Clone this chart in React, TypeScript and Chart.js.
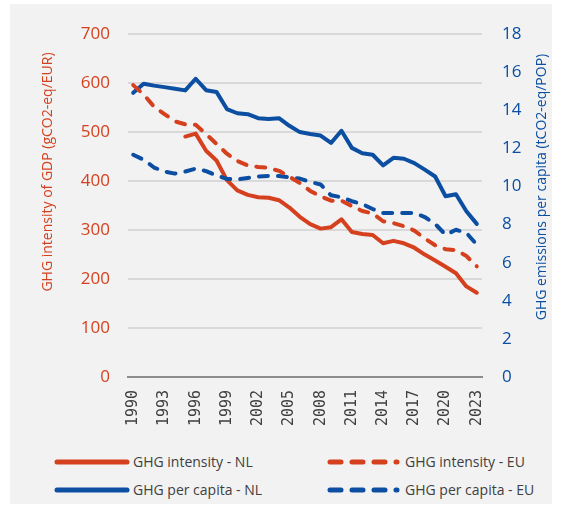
import React, { useEffect, useRef } from "react";
import { Chart, registerables } from "chart.js";

Chart.register(...registerables);

const years = [
  "1990", "1991", "1992", "1993", "1994", "1995", "1996", "1997", "1998", "1999",
  "2000", "2001", "2002", "2003", "2004", "2005", "2006", "2007", "2008", "2009",
  "2010", "2011", "2012", "2013", "2014", "2015", "2016", "2017", "2018", "2019",
  "2020", "2021", "2022", "2023",
];
const tickYears = ["1990", "1993", "1996", "1999", "2002", "2005", "2008", "2011", "2014", "2017", "2020", "2023"];

// GHG intensity of GDP (gCO2-eq/EUR) - left axis
const intensityNL = [
  null, null, null, null, null, 491, 497, 462, 442, 402,
  381, 372, 367, 366, 361, 346, 327, 312, 303, 306,
  322, 296, 292, 290, 273, 278, 273, 264, 250, 238,
  225, 212, 185, 172,
];
const intensityEU = [
  596, 577, 552, 537, 522, 516, 515, 496, 476, 456,
  441, 432, 429, 427, 421, 409, 396, 380, 369, 360,
  360, 349, 339, 334, 318, 314, 308, 299, 283, 269,
  261, 259, 247, 226,
];
// GHG emissions per capita (tCO2-eq/POP) - right axis
const perCapitaNL = [
  14.92, 15.4, 15.3, 15.22, 15.14, 15.05, 15.66, 15.06, 14.97, 14.07,
  13.85, 13.8, 13.59, 13.55, 13.59, 13.19, 12.86, 12.76, 12.68, 12.29,
  12.93, 12.03, 11.75, 11.67, 11.11, 11.51, 11.46, 11.23, 10.89, 10.53,
  9.49, 9.6, 8.7, 8.04,
];
const perCapitaEU = [
  11.67, 11.41, 11.0, 10.79, 10.68, 10.79, 10.94, 10.81, 10.58, 10.4,
  10.37, 10.45, 10.53, 10.56, 10.55, 10.48, 10.42, 10.24, 10.11, 9.54,
  9.44, 9.23, 9.08, 8.82, 8.61, 8.61, 8.61, 8.61, 8.4, 8.04,
  7.47, 7.73, 7.57, 6.95,
];

const leftTitle = "GHG intensity of GDP (gCO2-eq/EUR)";
const rightTitle = "GHG emissions per capita (tCO2-eq/POP)";
const legendLabels = ["GHG intensity - NL", "GHG intensity - EU", "GHG per capita - NL", "GHG per capita - EU"];

const RED = "#d5411f";
const BLUE = "#0b4ea2";
const FONT = "'Open Sans', 'Noto Sans', sans-serif";

const titlesPlugin = {
  id: "axisTitles",
  afterDraw(chart: any) {
    const ctx = chart.ctx;
    ctx.save();
    ctx.font = `14px ${FONT}`;
    ctx.textAlign = "center";
    ctx.textBaseline = "middle";
    ctx.fillStyle = RED;
    ctx.translate(38, 168);
    ctx.rotate(-Math.PI / 2);
    ctx.fillText(leftTitle, 0, 0);
    ctx.restore();
    ctx.save();
    ctx.font = `14px ${FONT}`;
    ctx.textAlign = "center";
    ctx.textBaseline = "middle";
    ctx.fillStyle = BLUE;
    ctx.translate(532, 183);
    ctx.rotate(-Math.PI / 2);
    ctx.fillText(rightTitle, 0, 0);
    ctx.restore();
  },
};

function LegendItem({ label, color, dashed, left, top, sampleWidth, textLeft }: any) {
  return (
    <>
      <svg
        width={sampleWidth + 8}
        height={10}
        style={{ position: "absolute", left: left - 4, top: top - 5 }}
      >
        <line
          x1={4}
          y1={5}
          x2={sampleWidth + 4}
          y2={5}
          stroke={color}
          strokeWidth={5}
          strokeLinecap="round"
          strokeDasharray={dashed ? "11 11" : undefined}
        />
      </svg>
      <div
        style={{
          position: "absolute",
          left: textLeft,
          top: top - 11,
          height: 22,
          lineHeight: "22px",
          fontFamily: FONT,
          fontSize: 14,
          color: "#404040",
          whiteSpace: "nowrap",
        }}
      >
        {label}
      </div>
    </>
  );
}

export default function App() {
  const canvasRef = useRef<HTMLCanvasElement | null>(null);

  useEffect(() => {
    const canvas = canvasRef.current;
    if (!canvas) return;
    const lineBase = {
      borderWidth: 4,
      pointRadius: 0,
      pointHoverRadius: 0,
      tension: 0,
      borderJoinStyle: "round" as const,
      spanGaps: false,
      fill: false,
    };
    const chart = new Chart(canvas, {
      type: "line",
      data: {
        labels: years,
        datasets: [
          { ...lineBase, label: legendLabels[1], data: intensityEU, borderColor: RED, yAxisID: "y", borderDash: [9, 10], borderCapStyle: "round" },
          { ...lineBase, label: legendLabels[3], data: perCapitaEU, borderColor: BLUE, yAxisID: "y1", borderDash: [9, 10], borderCapStyle: "round" },
          { ...lineBase, label: legendLabels[0], data: intensityNL, borderColor: RED, yAxisID: "y", borderCapStyle: "round" },
          { ...lineBase, label: legendLabels[2], data: perCapitaNL, borderColor: BLUE, yAxisID: "y1", borderCapStyle: "round" },
        ],
      },
      options: {
        responsive: false,
        animation: false,
        events: [],
        layout: { padding: { top: 26, left: 0, right: 0, bottom: 0 } },
        plugins: {
          legend: { display: false },
          tooltip: { enabled: false },
          title: { display: false },
        },
        scales: {
          x: {
            type: "category",
            offset: true,
            grid: { display: false },
            border: { display: true, color: "#8c8c8c", width: 2 },
            ticks: {
              autoSkip: false,
              maxRotation: 90,
              minRotation: 90,
              padding: 5,
              color: "#404040",
              font: { family: "'DejaVu Sans Mono', monospace", size: 15 },
              callback: (_v: any, i: number) => (tickYears.includes(years[i]) ? years[i] : ""),
            },
            afterFit: (s: any) => {
              s.height = 67;
            },
          },
          y: {
            type: "linear",
            position: "left",
            min: 0,
            max: 700,
            ticks: {
              stepSize: 100,
              padding: 18,
              color: RED,
              font: { family: FONT, size: 17 },
            },
            grid: {
              drawTicks: false,
              lineWidth: 2,
              color: (ctx: any) => (ctx.tick && ctx.tick.value === 0 ? "#8c8c8c" : "#d9d9d9"),
            },
            border: { display: false },
            afterFit: (s: any) => {
              s.width = 118;
            },
          },
          y1: {
            type: "linear",
            position: "right",
            min: 0,
            max: 18,
            ticks: {
              stepSize: 2,
              padding: 20,
              color: BLUE,
              font: { family: FONT, size: 17 },
            },
            grid: { display: false, drawTicks: false },
            border: { display: false },
            afterFit: (s: any) => {
              s.width = 70;
            },
          },
        },
      },
      plugins: [titlesPlugin],
    });
    return () => chart.destroy();
  }, []);

  return (
    <div
      style={{
        position: "absolute",
        left: 10,
        top: 4,
        width: 542,
        height: 500,
        background: "#f2f2f2",
      }}
    >
      <canvas ref={canvasRef} width={542} height={440} style={{ position: "absolute", left: 0, top: 0, width: 542, height: 440 }} />
      <LegendItem label={legendLabels[0]} color={RED} dashed={false} left={47} top={458} sampleWidth={70} textLeft={123} />
      <LegendItem label={legendLabels[1]} color={RED} dashed={true} left={320} top={458} sampleWidth={67} textLeft={395} />
      <LegendItem label={legendLabels[2]} color={BLUE} dashed={false} left={47} top={486} sampleWidth={70} textLeft={123} />
      <LegendItem label={legendLabels[3]} color={BLUE} dashed={true} left={320} top={486} sampleWidth={67} textLeft={395} />
    </div>
  );
}
